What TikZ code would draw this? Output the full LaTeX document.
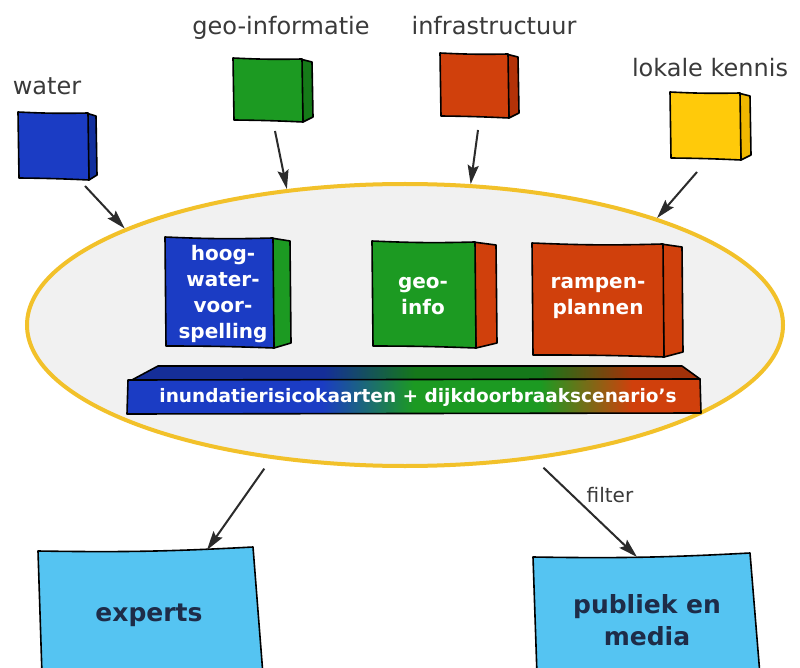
\documentclass[tikz,border=0pt]{standalone}
\usepackage{fontspec}
\setmainfont{DejaVu Sans}
\usetikzlibrary{shapes.geometric,arrows.meta}
\definecolor{wblue}{HTML}{1B3CC4}
\definecolor{wblueD}{HTML}{12309E}
\definecolor{ggreen}{HTML}{1C9A22}
\definecolor{ggreenD}{HTML}{157A18}
\definecolor{rred}{HTML}{D0400C}
\definecolor{rredD}{HTML}{B33208}
\definecolor{yyel}{HTML}{FFCA0A}
\definecolor{yyelD}{HTML}{F0B800}
\definecolor{lblue}{HTML}{55C4F2}
\definecolor{ellline}{HTML}{F2C12A}
\definecolor{ellfill}{HTML}{F1F1F1}
\definecolor{lblgray}{HTML}{3A3A3A}
\definecolor{navy}{HTML}{1E2C48}
\definecolor{arrgray}{HTML}{2B2B2B}
\pgfdeclarehorizontalshading{barshade}{100bp}{color(0bp)=(wblue); color(42bp)=(wblue); color(50bp)=(ggreen); color(61bp)=(ggreen); color(69bp)=(rred); color(100bp)=(rred)}
% #1 x1, #2 y1, #3 x2, #4 y2, #5 front colour, #6 side colour, #7 side width
\newcommand{\skbox}[7]{%
  \path[fill=#6,draw=black,line width=1.6pt,line join=round]
    (#3-2,#2+1) -- (#3+#7,#2+4) -- (#3+#7+1,#4-5) -- (#3+1,#4) -- cycle;
  \path[fill=#5,draw=black,line width=1.6pt,line join=round]
    (#1,#2) to[bend right=2] (#3,#2+1) -- (#3+1,#4) to[bend right=1] (#1+1,#4-2) -- cycle;
}
\begin{document}
\begin{tikzpicture}[x=1pt,y=-1pt,
  lbl/.style={text=lblgray,font=\fontsize{24}{28}\selectfont,inner sep=0,anchor=base},
  intxt/.style={text=white,font=\bfseries\fontsize{20}{26}\selectfont,align=center,inner sep=0},
  outtxt/.style={text=navy,font=\bfseries\fontsize{25}{32}\selectfont,align=center,inner sep=0},
  arr/.style={draw=arrgray,line width=2pt,-{Stealth[length=19pt,width=11pt,inset=3pt]}}]
\fill[white] (0,0) rectangle (800,668);
\useasboundingbox (0,0) rectangle (800,668);

% top labels
\node[lbl] (lwater) at (47,95) {water};
\node[lbl] (lgeo) at (281,35) {geo-informatie};
\node[lbl] (linfra) at (494,35) {infrastructuur};
\node[lbl] (llok) at (710,77) {lokale kennis};

% source boxes
\skbox{18}{112}{88}{180}{wblue}{wblueD}{8}
\skbox{233}{58}{302}{122}{ggreen}{ggreenD}{10}
\skbox{440}{53}{508}{118}{rred}{rredD}{10}
\skbox{670}{92}{740}{160}{yyel}{yyelD}{10}

% ellipse
\node[ellipse,draw=ellline,line width=4pt,fill=ellfill,minimum width=756pt,minimum height=282pt,inner sep=0] (pool) at (405,325) {};

% arrow ends
\coordinate (tw) at (85,186);
\coordinate (tg) at (275,131);
\coordinate (ti) at (478,130);
\coordinate (tl) at (697,172);
\coordinate (he) at (207,550);
\coordinate (hp) at (637,557);

\draw[arr] (tw) -- (pool.161);
\draw[arr] (tg) -- (pool.131);
\draw[arr] (ti) -- (pool.65);
\draw[arr] (tl) -- (pool.23);

% inner boxes
\skbox{165}{237}{273}{348}{wblue}{ggreen}{17}
\skbox{372}{241}{475}{348}{ggreen}{rred}{21}
\skbox{532}{243}{663}{357}{rred}{rred}{19}
\node[intxt] (hw) at (223,294) {hoog-\\water-\\voor-\\spelling};
\node[intxt] (gi) at (423,296) {geo-\\info};
\node[intxt] (rp) at (598,298) {rampen-\\plannen};

% bar
\shade[shading=barshade,draw=black,line width=1.6pt,line join=round] (130,381) -- (158,366) -- (682,366) -- (700,379) -- cycle;
\fill[black,opacity=0.22] (130,381) -- (158,366) -- (682,366) -- (700,379) -- cycle;
\shade[shading=barshade,draw=black,line width=1.6pt,line join=round] (128,380) -- (700,379) -- (701,413) -- (127,414) -- cycle;
\node[text=white,font=\bfseries\fontsize{18.5}{22}\selectfont,inner sep=0] (bar) at (418,397) {inundatierisicokaarten + dijkdoorbraakscenario's};

% output boxes
\path[fill=lblue,draw=black,line width=1.6pt,line join=round] (38,551) to[bend right=2] (253,547) -- (263,675) -- (42,675) -- cycle;
\path[fill=lblue,draw=black,line width=1.6pt,line join=round] (533,557) to[bend right=2] (750,553) -- (760,675) -- (537,675) -- cycle;
\node[outtxt] (exp) at (149,615) {experts};
\node[outtxt] (pub) at (647,620) {publiek en\\media};

\draw[arr,shorten <=12pt] (pool.225) -- (he);
\draw[arr,shorten <=12pt] (pool.314) -- (hp);
\node[lbl,font=\fontsize{20}{24}\selectfont] (filt) at (610,502) {filter};
\end{tikzpicture}
\end{document}
